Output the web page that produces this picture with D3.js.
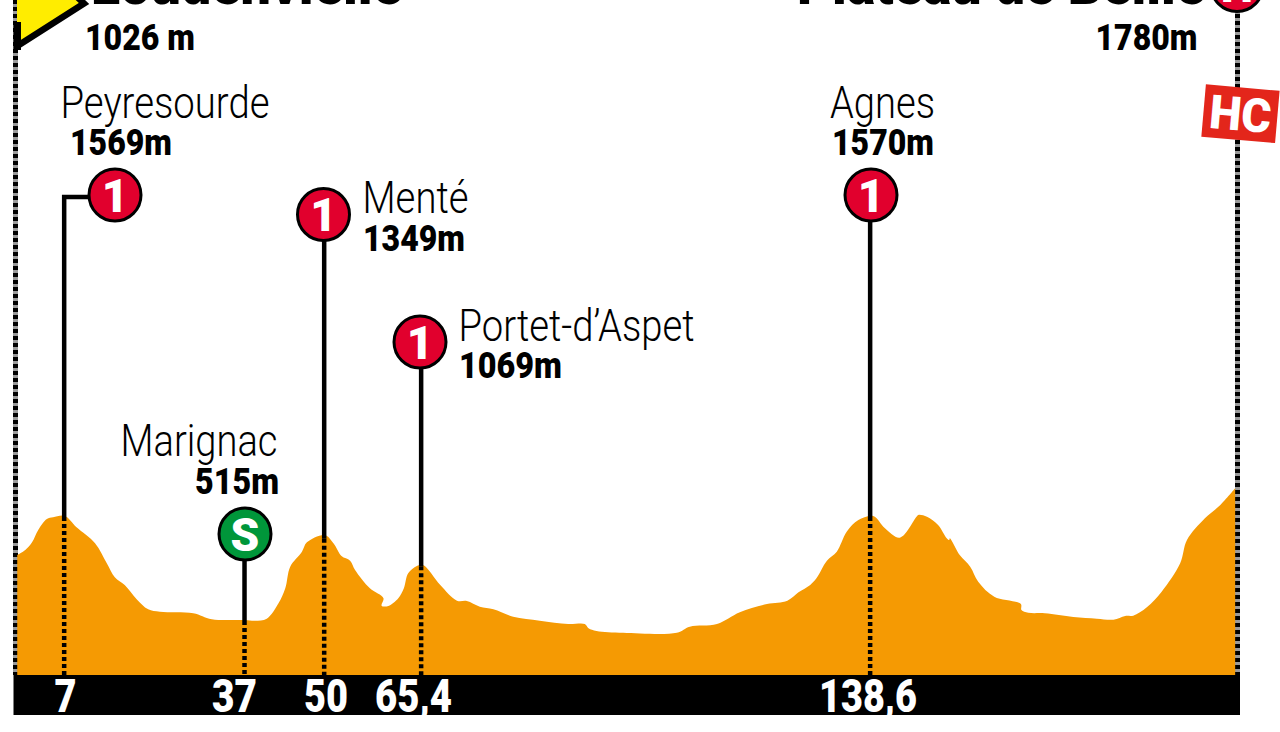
<!DOCTYPE html>
<html>
<head>
<meta charset="utf-8">
<script src="https://cdn.jsdelivr.net/npm/d3@7/dist/d3.min.js"></script>
<style>
  html, body { margin: 0; padding: 0; background: #fff; overflow: hidden; }
  svg { display: block; font-family: Roboto, sans-serif; }
</style>
</head>
<body>
<svg id="chart" width="1280" height="732"></svg>
<script>
// Profile
const profileKm = [0.2, 1.5, 2.6, 3.6, 5.0, 6.0, 7.9, 9.8, 12.8, 14.7, 16.0, 17.6, 19.5, 21.4, 23.3, 28.7, 31.7, 37.1, 38.7, 40.6,
  42.5, 43.6, 44.4, 46.3, 47.1, 50.0, 51.4, 52.7, 54.1, 54.9, 57.3, 59.5, 59.2, 60.3, 61.9, 62.8, 63.5, 64.9, 65.9, 68.7,
  71.4, 73.0, 75.1, 77.3, 80.5, 84.8, 89.4, 92.1, 92.7, 94.0, 98.3, 107.0, 109.1, 113.5, 117.2, 121.6, 124.9, 126.7, 128.6, 129.6,
  131.3, 132.9, 134.5, 136.4, 138.8, 140.7, 143.1, 145.8, 146.1, 147.5, 149.3, 150.7, 151.1, 151.2, 152.8, 154.5, 155.8, 158.4, 162.7, 162.8,
  163.9, 166.6, 171.2, 175.0, 177.7, 179.6, 180.9, 183.1, 185.5, 188.5, 189.6, 192.5, 195.0, 197.4];
const profileEle = [1173, 1224, 1302, 1427, 1538, 1555, 1569, 1454, 1292, 1089, 948, 870, 728, 623, 599, 583, 522, 515, 508, 528,
  684, 836, 1055, 1207, 1302, 1376, 1292, 1163, 1116, 1022, 836, 735, 660, 657, 735, 836, 988, 1062, 1072, 870,
  711, 707, 650, 623, 548, 508, 474, 474, 431, 404, 386, 386, 447, 474, 593, 677, 711, 796, 870, 937,
  1116, 1207, 1409, 1528, 1569, 1444, 1349, 1561, 1579, 1561, 1477, 1343, 1325, 1343, 1173, 1055, 903, 751, 677, 616,
  589, 583, 545, 528, 518, 556, 559, 644, 802, 1089, 1325, 1545, 1680, 1849];

// Climbs
const climbNames = ["Peyresourde", "Marignac", "Menté", "Portet-d’Aspet", "Agnes"];
const climbHeights = ["1569m", "515m", "1349m", "1069m", "1570m"];
const climbKm = [7.8, 37.0, 49.9, 65.6, 138.3];
const climbEle = [1569, 515, 1349, 1069, 1570];
const climbCat = ["1", "S", "1", "1", "1"];
const kmLabels = ["7", "37", "50", "65,4", "138,6"];
const totalKm = 197.7;

const COLORS = {
  profile: "#f59a03",
  red: "#e1002d",
  green: "#00963a",
  tag: "#e3261b",
  yellow: "#ffed00",
  rail: "#9a9a9a",
};

const svg = d3.select("#chart");
const baseY = 675;

const x = d3.scaleLinear().domain([0, totalKm]).range([16, 1237]);
const y = d3.scaleLinear().domain([0, 1800]).range([670.8, 493.2]);

// Where each label sits, with the width it has to fill (condensed type)
const nameLayout = [
  { x: 60.5, w: 209, y: 118 },
  { x: 120.5, w: 157, y: 456 },
  { x: 362.5, w: 106, y: 213 },
  { x: 458.5, w: 236, y: 341 },
  { x: 830, w: 105, y: 118 },
];
const heightLayout = [
  { x: 70, w: 102, y: 155 },
  { x: 195, w: 84, y: 494 },
  { x: 363, w: 102, y: 251 },
  { x: 459, w: 103, y: 378 },
  { x: 832, w: 102, y: 155 },
];
const badgeLayout = [
  { x: 115, y: 195 },
  { x: 245, y: 534 },
  { x: 323.5, y: 214.5 },
  { x: 420, y: 342 },
  { x: 871, y: 195 },
];
const kmLayout = [
  { x: 54.5, w: 22 },
  { x: 212, w: 45 },
  { x: 304, w: 44 },
  { x: 375, w: 77 },
  { x: 819, w: 98 },
];

function fitted(sel, size, weight, fill) {
  return sel
    .attr("font-size", size)
    .attr("font-weight", weight)
    .attr("fill", fill || "#000")
    .attr("lengthAdjust", "spacingAndGlyphs");
}

// Side rails
[x(0) - 0.5, x(totalKm) + 0.5].forEach((px) => {
  svg.append("line").attr("x1", px).attr("x2", px).attr("y1", 0).attr("y2", baseY)
    .attr("stroke", COLORS.rail).attr("stroke-width", 5);
  svg.append("line").attr("x1", px).attr("x2", px).attr("y1", 0).attr("y2", baseY)
    .attr("stroke", "#000").attr("stroke-width", 5).attr("stroke-dasharray", "4 3");
});

// Profile
const area = d3.area()
  .x((d) => x(d[0]))
  .y0(baseY)
  .y1((d) => y(d[1]))
  .curve(d3.curveCatmullRom.alpha(0.5));

svg.append("path")
  .datum(d3.zip(profileKm, profileEle))
  .attr("d", area)
  .attr("fill", COLORS.profile);

// Stems
climbKm.forEach((km, i) => {
  const px = x(km);
  const top = y(climbEle[i]);
  const badge = badgeLayout[i];
  svg.append("line").attr("x1", px).attr("x2", px).attr("y1", top + 1).attr("y2", baseY)
    .attr("stroke", "#000").attr("stroke-width", 4.5).attr("stroke-dasharray", "4 3");
  if (i === 0) {
    svg.append("path")
      .attr("d", d3.line()([[px, top + 1], [px, badge.y + 2], [badge.x, badge.y + 2]]))
      .attr("fill", "none").attr("stroke", "#000").attr("stroke-width", 4.5);
  } else {
    svg.append("line").attr("x1", px).attr("x2", px).attr("y1", badge.y).attr("y2", top + 1)
      .attr("stroke", "#000").attr("stroke-width", 4.5);
  }
});

// Badges
function drawBadge(cx, cy, label, fill) {
  svg.append("circle").attr("cx", cx).attr("cy", cy).attr("r", 26)
    .attr("fill", fill).attr("stroke", "#000").attr("stroke-width", 3);
  svg.append("text").attr("x", cx).attr("y", cy + 16.5)
    .attr("text-anchor", "middle").attr("font-size", 46).attr("font-weight", 900)
    .attr("fill", "#fff").text(label);
}
climbCat.forEach((c, i) => {
  drawBadge(badgeLayout[i].x, badgeLayout[i].y, c, c === "S" ? COLORS.green : COLORS.red);
});
drawBadge(x(totalKm), -14.5, "H", COLORS.red);

// Names and heights
climbNames.forEach((name, i) => {
  const n = nameLayout[i];
  svg.append("text").attr("x", n.x).attr("y", n.y).attr("textLength", n.w)
    .call(fitted, 45, 300).text(name);
  const h = heightLayout[i];
  svg.append("text").attr("x", h.x).attr("y", h.y).attr("textLength", h.w)
    .call(fitted, 36, 900).text(climbHeights[i]);
});

// Start flag
svg.append("path")
  .attr("d", d3.line()([[17, -10], [17, 44], [84, 3], [70, -10]]))
  .attr("fill", COLORS.yellow);
svg.append("path")
  .attr("d", d3.line()([[15, 47.5], [84, 3.5], [70, -10]]))
  .attr("fill", "none").attr("stroke", "#000").attr("stroke-width", 6.5);
svg.append("rect").attr("x", 13.5).attr("y", 22).attr("width", 7.5).attr("height", 28)
  .attr("fill", "#000");

// Start and finish labels
svg.append("text").attr("x", 91).attr("y", 4).attr("textLength", 311)
  .call(fitted, 58, 900).text("Loudenvielle");
svg.append("text").attr("x", 85).attr("y", 50).attr("textLength", 110)
  .call(fitted, 36, 900).text("1026 m");
svg.append("text").attr("x", 797).attr("y", 4).attr("textLength", 408)
  .call(fitted, 58, 900).text("Plateau de Beille");
svg.append("text").attr("x", 1095.5).attr("y", 50).attr("textLength", 102)
  .call(fitted, 36, 900).text("1780m");

// HC tag
const tag = svg.append("g").attr("transform", "translate(1240.5,113.5) rotate(5)");
tag.append("rect").attr("x", -37).attr("y", -26).attr("width", 74).attr("height", 52.5)
  .attr("fill", COLORS.tag);
tag.append("text").attr("x", -31).attr("y", 17).attr("textLength", 62)
  .call(fitted, 47, 900, "#fff").text("HC");

// Km bar
svg.append("rect").attr("x", 13.5).attr("y", baseY).attr("width", 1226.5).attr("height", 40)
  .attr("fill", "#000");
kmLabels.forEach((label, i) => {
  svg.append("text").attr("x", kmLayout[i].x).attr("y", 711.5).attr("textLength", kmLayout[i].w)
    .call(fitted, 46, 900, "#fff").text(label);
});
</script>
</body>
</html>
